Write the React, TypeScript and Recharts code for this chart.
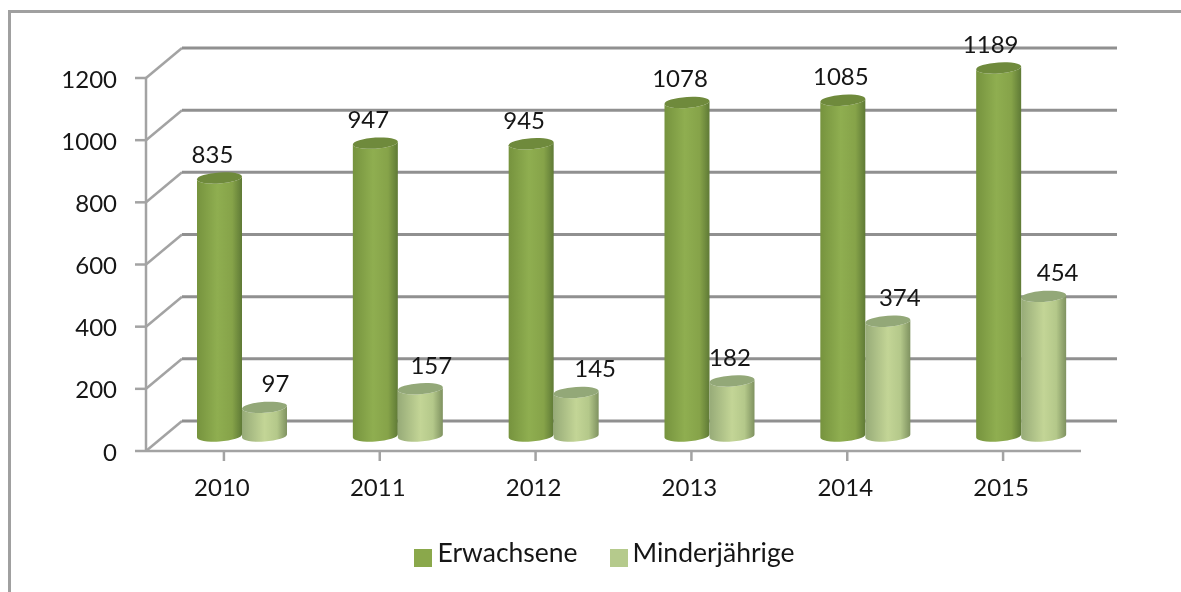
import { BarChart, Bar, XAxis, YAxis, CartesianGrid, Legend, LabelList } from 'recharts';

const years = ['2010', '2011', '2012', '2013', '2014', '2015'];
const erwachsene = [835, 947, 945, 1078, 1085, 1189];
const minderjaehrige = [97, 157, 145, 182, 374, 454];
const yTicks = [0, 200, 400, 600, 800, 1000, 1200];

const data = years.map((year, i) => ({
  year,
  Erwachsene: erwachsene[i],
  Minderjährige: minderjaehrige[i],
}));

const FONT = 'Lato, "Open Sans", sans-serif';
const TEXT = '#161616';
const GRID = '#909090';
const AXIS = '#a3a3a3';
// depth of the fake 3D box, back wall vs front plane
const DEPTH_X = 36;
const DEPTH_Y = 30;

// hand-placed data labels in the original, relative to the top of each bar
const adultNudge = [-7, -7, -7, -7, -2, -8];
const minorNudge = [11, 11, 19, -2, 12, 14];

function GridLine(props: any) {
  const { x1, x2, y1 } = props;
  return (
    <g>
      <line x1={x1} y1={y1} x2={x1 + DEPTH_X} y2={y1 - DEPTH_Y} stroke={AXIS} strokeWidth={2.5} />
      <line x1={x1 + DEPTH_X} y1={y1 - DEPTH_Y} x2={x2 + DEPTH_X} y2={y1 - DEPTH_Y} stroke={GRID} strokeWidth={3} />
    </g>
  );
}

function Cylinder(props: any) {
  const { x, y, width, height, gradient, cap } = props;
  const l = x + DEPTH_X / 2;
  const r = l + width;
  const top = y - DEPTH_Y / 2 + 1.5;
  const bottom = y + height - DEPTH_Y / 2;
  const rx = width / 2;
  const ry = 5.5;
  const tilt = 1.5;
  const body =
    `M${l},${top + tilt} L${l},${bottom + tilt} ` +
    `A${rx},${ry} -4 0 0 ${r},${bottom - tilt} ` +
    `L${r},${top - tilt} A${rx},${ry} -4 0 1 ${l},${top + tilt} Z`;
  const lid =
    `M${l},${top + tilt} A${rx},${ry} -4 0 1 ${r},${top - tilt} ` +
    `A${rx},${ry} -4 0 1 ${l},${top + tilt} Z`;
  return (
    <g>
      <path d={body} fill={`url(#${gradient})`} />
      <path d={lid} fill={cap} />
    </g>
  );
}

function barLabel(nudge: number[]) {
  return function BarLabel(props: any) {
    const { x, y, width, value, index } = props;
    return (
      <text
        x={x + DEPTH_X / 2 + width / 2 + nudge[index]}
        y={y - DEPTH_Y / 2 - 23}
        textAnchor="middle"
        dominantBaseline="central"
        fontFamily={FONT}
        fontSize={24}
        fill={TEXT}
      >
        {value}
      </text>
    );
  };
}

function LegendText(value: string) {
  return <span style={{ color: TEXT, fontFamily: FONT, fontSize: 26.5, marginLeft: 1, marginRight: 22 }}>{value}</span>;
}

export default function App() {
  return (
    <div style={{ position: 'absolute', left: 0, top: 0, width: 1181, height: 592, background: '#fff', overflow: 'hidden', filter: 'blur(0.5px)' }}>
      <div
        style={{
          position: 'absolute',
          left: 8,
          top: 10,
          width: 1173,
          height: 582,
          borderTop: '3px solid #a0a0a0',
          borderLeft: '3px solid #a0a0a0',
        }}
      />
      <BarChart
        width={1181}
        height={592}
        data={data}
        barCategoryGap={0}
        barGap={0}
        barSize={45}
        margin={{ top: 78, right: 100, bottom: 20, left: 0 }}
        style={{ position: 'absolute', left: 0, top: 0 }}
      >
        <defs>
          <linearGradient id="adultFill" x1="0" y1="0" x2="1" y2="0">
            <stop offset="0%" stopColor="#76933e" />
            <stop offset="45%" stopColor="#8fae50" />
            <stop offset="78%" stopColor="#86a349" />
            <stop offset="100%" stopColor="#5f7a36" />
          </linearGradient>
          <linearGradient id="minorFill" x1="0" y1="0" x2="1" y2="0">
            <stop offset="0%" stopColor="#97ab78" />
            <stop offset="50%" stopColor="#c3d596" />
            <stop offset="78%" stopColor="#b4c88a" />
            <stop offset="100%" stopColor="#7f9260" />
          </linearGradient>
        </defs>
        <CartesianGrid vertical={false} horizontal={GridLine} />
        <XAxis
          dataKey="year"
          height={85}
          stroke={AXIS}
          strokeWidth={2.5}
          tickSize={10}
          tickMargin={18}
          tick={{ fill: TEXT, fontFamily: FONT, fontSize: 24, dx: -2 }}
          tickLine={{ stroke: AXIS, strokeWidth: 2.5 }}
        />
        <YAxis
          width={146}
          domain={[0, 1200]}
          ticks={yTicks}
          interval={0}
          stroke={AXIS}
          strokeWidth={2.5}
          tickSize={11}
          tickMargin={18}
          tick={{ fill: TEXT, fontFamily: FONT, fontSize: 24, dy: 1 }}
          tickLine={{ stroke: AXIS, strokeWidth: 2.5 }}
        />
        <Legend
          verticalAlign="bottom"
          height={36}
          iconType="square"
          iconSize={18}
          formatter={LegendText}
          wrapperStyle={{ left: 80 }}
        />
        <Bar
          dataKey="Erwachsene"
          fill="#8aa84b"
          isAnimationActive={false}
          shape={(p: any) => <Cylinder {...p} gradient="adultFill" cap="#6f8a3c" />}
        >
          <LabelList dataKey="Erwachsene" content={barLabel(adultNudge)} />
        </Bar>
        <Bar
          dataKey="Minderjährige"
          fill="#b5ca8c"
          isAnimationActive={false}
          shape={(p: any) => <Cylinder {...p} gradient="minorFill" cap="#93a878" />}
        >
          <LabelList dataKey="Minderjährige" content={barLabel(minorNudge)} />
        </Bar>
      </BarChart>
    </div>
  );
}
